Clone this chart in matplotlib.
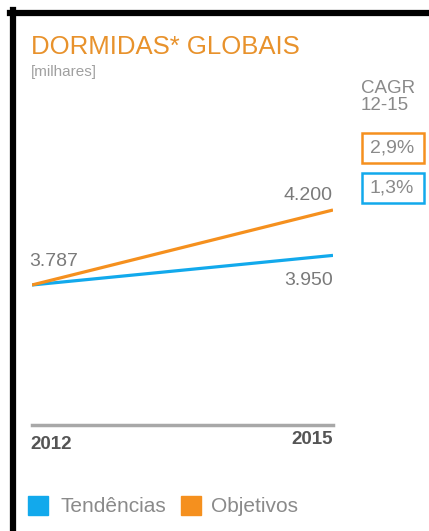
import matplotlib
matplotlib.use("Agg")
import matplotlib.pyplot as plt
from matplotlib.patches import Rectangle
from matplotlib.lines import Line2D

plt.rcParams['font.family'] = ['Liberation Sans', 'DejaVu Sans']

# Data
years = [2012, 2015]
tendencias = [3787, 3950]
objetivos = [3787, 4200]
cagr_labels = ["2,9%", "1,3%"]
legend_labels = ["Tendências", "Objetivos"]

BLUE = "#12A9EC"
ORANGE = "#F5901E"
GRAY = "#8a8a8a"

W, H = 429, 531
fig = plt.figure(figsize=(W / 100, H / 100), dpi=100)


def fx(px):
    return px / W


def fy(py):
    return 1 - py / H


# black frame (top and left edges only)
fig.add_artist(Line2D([fx(10), 1], [fy(13), fy(13)], color="black", lw=4.5,
                      transform=fig.transFigure))
fig.add_artist(Line2D([fx(13), fx(13)], [fy(10), 0], color="black", lw=4.5,
                      transform=fig.transFigure))

# titles
fig.text(fx(31), fy(54), "DORMIDAS* GLOBAIS", color="#E8922C", fontsize=18.5,
         va="baseline", ha="left")
fig.text(fx(31), fy(76), "[milhares]", color="#a0a0a0", fontsize=11,
         va="baseline", ha="left")
fig.text(fx(361), fy(93), "CAGR", color=GRAY, fontsize=13.5, va="baseline")
fig.text(fx(361), fy(110), "12-15", color=GRAY, fontsize=13.5, va="baseline")

# CAGR boxes
for i, (lab, col) in enumerate(zip(cagr_labels, [ORANGE, BLUE])):
    top = 133 + i * 40
    fig.add_artist(Rectangle((fx(362), fy(top + 30)), fx(62), 30 / H,
                             fill=False, edgecolor=col, lw=1.8,
                             transform=fig.transFigure))
    fig.text(fx(392), fy(top + 15), lab, color=GRAY, fontsize=14,
             ha="center", va="center")

# main axes
ax = fig.add_axes([fx(32), fy(425), fx(301), 225 / H])
ax.plot(years, tendencias, color=BLUE, lw=2.3, solid_capstyle="butt")
ax.plot(years, objetivos, color=ORANGE, lw=2.3, solid_capstyle="butt")
ax.set_xlim(years[0], years[-1])
ax.set_ylim(3016, 4255)
for s in ["top", "right", "left"]:
    ax.spines[s].set_visible(False)
ax.spines["bottom"].set_color("#a8a8a8")
ax.spines["bottom"].set_linewidth(2.5)
ax.set_xticks([])
ax.set_yticks([])
ax.patch.set_alpha(0)


def fmt(v):
    return f"{v:,}".replace(",", ".")


ax.annotate(fmt(objetivos[0]), (years[0], objetivos[0]), xytext=(-2, 11),
            textcoords="offset points", color="#7a7a7a", fontsize=14,
            ha="left", va="bottom")
ax.annotate(fmt(objetivos[-1]), (years[-1], objetivos[-1]), xytext=(0, 4),
            textcoords="offset points", color="#7a7a7a", fontsize=14,
            ha="right", va="bottom")
ax.annotate(fmt(tendencias[-1]), (years[-1], tendencias[-1]), xytext=(0, -12),
            textcoords="offset points", color="#7a7a7a", fontsize=14,
            ha="right", va="top")

# year labels
ax.annotate(str(years[0]), (years[0], 3016), xytext=(-1, -8),
            textcoords="offset points", color="#555555", fontsize=13.5,
            fontweight="bold", ha="left", va="top")
ax.annotate(str(years[-1]), (years[-1], 3016), xytext=(0, -4.5),
            textcoords="offset points", color="#555555", fontsize=13.5,
            fontweight="bold", ha="right", va="top")

# legend
for lab, col, sx, gap in zip(legend_labels, [BLUE, ORANGE], [28, 181], [32, 30]):
    fig.add_artist(Rectangle((fx(sx), fy(515)), fx(20), 19 / H, color=col,
                             transform=fig.transFigure))
    fig.text(fx(sx + gap), fy(507), lab, color=GRAY, fontsize=15,
             ha="left", va="center")

fig.savefig("out.png", dpi=100)
